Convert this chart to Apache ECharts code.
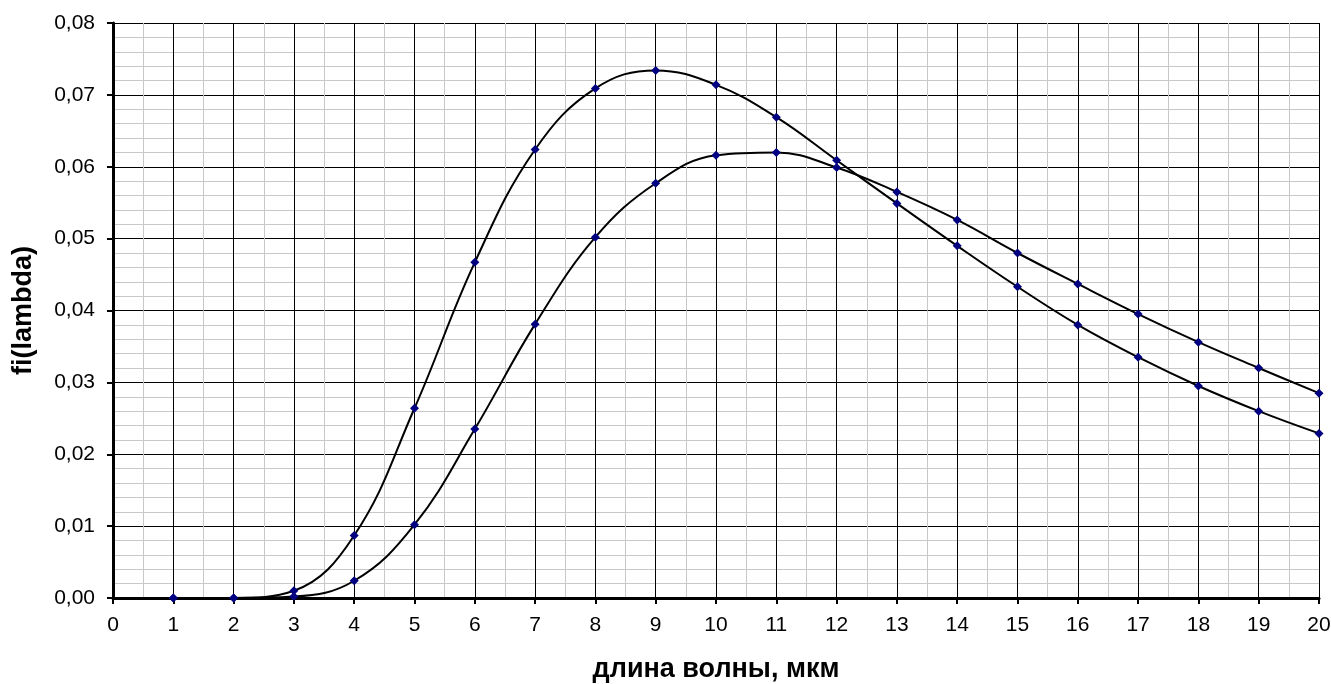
<!DOCTYPE html>
<html>
<head>
<meta charset="utf-8">
<script src="https://cdn.jsdelivr.net/npm/echarts@6/dist/echarts.min.js"></script>
<style>
  html, body { margin: 0; padding: 0; background: #fff; }
  #chart { width: 1331px; height: 684px; }
</style>
</head>
<body>
<div id="chart"></div>
<script>
// wavelength, um
const lambdas = [1, 2, 3, 4, 5, 6, 7, 8, 9, 10, 11, 12, 13, 14, 15, 16, 17, 18, 19, 20]
// curve with the higher peak (near 9 um)
const fiHigh = [0, 0, 0.0010, 0.0087, 0.0264, 0.0467, 0.0624, 0.0709, 0.0734, 0.0714,
  0.0669, 0.0609, 0.0549, 0.0490, 0.0433, 0.0380, 0.0335, 0.0295, 0.0260, 0.0229]
// curve with the lower peak (near 11 um)
const fiLow = [0, 0, 0.0002, 0.0024, 0.0102, 0.0235, 0.0381, 0.0502, 0.0577, 0.0616,
  0.0620, 0.0599, 0.0565, 0.0526, 0.0480, 0.0437, 0.0395, 0.0356, 0.0320, 0.0285]

const font = 'Liberation Sans, Arial, sans-serif'

function makeSeries (values) {
  return {
    type: 'line',
    data: lambdas.map((x, i) => [x, values[i]]),
    smooth: 0.4,
    symbol: 'diamond',
    symbolSize: 9,
    showAllSymbol: true,
    lineStyle: { color: '#000', width: 2 },
    itemStyle: { color: '#000080' },
    clip: true,
    z: 5
  }
}

const dom = echarts.init(document.getElementById('chart'))
const option = {
  backgroundColor: '#fff',
  animation: false,
  grid: { left: 113, right: 12, top: 23, bottom: 86, outerBoundsMode: 'none', containLabel: false },
  xAxis: {
    type: 'value',
    min: 0,
    max: 20,
    interval: 1,
    name: 'длина волны, мкм',
    nameLocation: 'middle',
    nameGap: 58,
    nameTextStyle: { fontFamily: font, fontSize: 27, fontWeight: 'bold', color: '#000' },
    axisLine: { show: true, onZero: false, lineStyle: { color: '#000', width: 3 } },
    axisTick: { show: true, length: 6, lineStyle: { color: '#000', width: 2 } },
    axisLabel: { fontFamily: font, fontSize: 21, color: '#000', margin: 17 },
    splitLine: { show: true, lineStyle: { color: '#000', width: 1 } },
    minorTick: { show: false, splitNumber: 2 },
    minorSplitLine: { show: true, lineStyle: { color: '#c8c8c8', width: 1 } }
  },
  yAxis: {
    type: 'value',
    min: 0,
    max: 0.08,
    interval: 0.01,
    name: 'fi(lambda)',
    nameLocation: 'middle',
    nameGap: 76,
    nameTextStyle: { fontFamily: font, fontSize: 27, fontWeight: 'bold', color: '#000' },
    axisLine: { show: true, lineStyle: { color: '#000', width: 3 } },
    axisTick: { show: true, length: 6, lineStyle: { color: '#000', width: 2 } },
    axisLabel: {
      fontFamily: font,
      fontSize: 21,
      color: '#000',
      margin: 18,
      formatter: v => v.toFixed(2).replace('.', ',')
    },
    splitLine: { show: true, lineStyle: { color: '#000', width: 1 } },
    minorTick: { show: false, splitNumber: 5 },
    minorSplitLine: { show: true, lineStyle: { color: '#c8c8c8', width: 1 } }
  },
  series: [makeSeries(fiHigh), makeSeries(fiLow)]
}
dom.setOption(option)
</script>
</body>
</html>
